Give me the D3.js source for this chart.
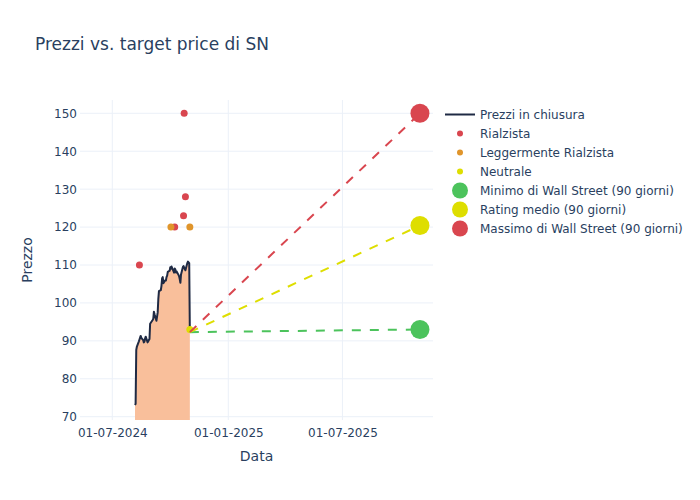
<!DOCTYPE html>
<html>
<head>
<meta charset="utf-8">
<script src="https://cdn.jsdelivr.net/npm/d3@7"></script>
<style>
  body { margin: 0; background: #fff; }
  svg { font-family: "DejaVu Sans", sans-serif; }
</style>
</head>
<body>
<svg id="chart" width="700" height="500"></svg>
<script>
// ---------------- DATA ----------------
const priceDates = [
  "2024-08-06","2024-08-07","2024-08-08","2024-08-09","2024-08-12","2024-08-13","2024-08-14","2024-08-15","2024-08-16",
  "2024-08-19","2024-08-20","2024-08-21","2024-08-22","2024-08-23","2024-08-26","2024-08-27","2024-08-28","2024-08-29","2024-08-30",
  "2024-09-03","2024-09-04","2024-09-05","2024-09-06","2024-09-09","2024-09-10","2024-09-11","2024-09-12","2024-09-13",
  "2024-09-16","2024-09-17","2024-09-18","2024-09-19","2024-09-20","2024-09-23","2024-09-24","2024-09-25","2024-09-26","2024-09-27",
  "2024-09-30","2024-10-01","2024-10-02","2024-10-03","2024-10-04","2024-10-07","2024-10-08","2024-10-09","2024-10-10","2024-10-11",
  "2024-10-14","2024-10-15","2024-10-16","2024-10-17","2024-10-18","2024-10-21","2024-10-22","2024-10-23","2024-10-24","2024-10-25",
  "2024-10-28","2024-10-29","2024-10-30","2024-10-31","2024-11-01"
];
const priceValues = [
  73.1, 73.4, 87.6, 88.5, 89.8, 90.3, 90.8, 91.3, 90.8,
  90.2, 89.6, 89.8, 90.6, 91.1, 89.6, 89.9, 90.2, 90.5, 94.5,
  95.5, 95.8, 97.7, 97.0, 95.3, 96.4, 97.5, 101.0, 103.1,
  103.4, 104.5, 106.5, 106.8, 105.2, 106.0, 105.9, 106.8, 107.2, 108.2,
  108.5, 109.4, 109.0, 109.6, 109.2, 108.0, 109.1, 108.8, 108.0, 108.3,
  107.4, 107.0, 106.2, 105.3, 107.5, 109.5, 109.7, 109.3, 108.9, 108.6,
  110.5, 110.9, 110.7, 110.5, 92.3
];

const rialzistaDates  = ["2024-08-13","2024-10-08","2024-10-22","2024-10-23","2024-10-25"];
const rialzistaValues = [110, 120, 123, 150, 128];
const leggRialzistaDates  = ["2024-10-02","2024-11-01"];
const leggRialzistaValues = [120, 120];
const neutraleDates  = ["2024-11-01"];
const neutraleValues = [93];

const targetStartDate = "2024-11-01";
const targetDate = "2025-11-01";
const targetNames  = ["Minimo di Wall Street (90 giorni)", "Rating medio (90 giorni)", "Massimo di Wall Street (90 giorni)"];
const targetValues = [93, 120.4, 150];

const xTickDates = ["2024-07-01","2025-01-01","2025-07-01"];
const yTickValues = [70, 80, 90, 100, 110, 120, 130, 140, 150];

const legendNames = ["Prezzi in chiusura","Rialzista","Leggermente Rialzista","Neutrale"].concat(targetNames);

// ---------------- STYLE ----------------
const C = {
  text: "#2a3f5f", grid: "#EBF0F8", line: "#1f2a44", fill: "#F9BF9B",
  red: "#D9464F", orange: "#E0952B", yellow: "#DEDE00", green: "#4CC35C"
};
const targetColors = [C.green, C.yellow, C.red];

const W = 700, H = 500;
const M = { left: 80, right: 267, top: 100, bottom: 80 };
const pw = W - M.left - M.right, ph = H - M.top - M.bottom;

const parse = d3.utcParse("%Y-%m-%d");
const DAY = 864e5;
const x0 = parse("2024-07-01").getTime();
const x = d3.scaleUtc()
  .domain([new Date(x0 - 51.24 * DAY), new Date(x0 + 508.7 * DAY)])
  .range([M.left, M.left + pw]);
const y = d3.scaleLinear().domain([69.13, 153.51]).range([M.top + ph, M.top]);

const svg = d3.select("#chart");
svg.append("rect").attr("width", W).attr("height", H).attr("fill", "#fff");

svg.append("defs").append("clipPath").attr("id", "clip")
  .append("rect").attr("x", M.left).attr("y", M.top).attr("width", pw).attr("height", ph);

// grid
const g = svg.append("g");
g.selectAll(".gy").data(yTickValues).join("line")
  .attr("x1", M.left).attr("x2", M.left + pw)
  .attr("y1", d => y(d)).attr("y2", d => y(d))
  .attr("stroke", C.grid).attr("stroke-width", 1);
g.selectAll(".gx").data(xTickDates).join("line")
  .attr("x1", d => x(parse(d))).attr("x2", d => x(parse(d)))
  .attr("y1", M.top).attr("y2", M.top + ph)
  .attr("stroke", C.grid).attr("stroke-width", 1);

// axes
const yAxis = d3.axisLeft(y).tickValues(yTickValues).tickSize(0).tickPadding(3);
const ya = svg.append("g").attr("transform", `translate(${M.left},0)`).call(yAxis);
const xAxis = d3.axisBottom(x).tickValues(xTickDates.map(parse)).tickFormat(d3.utcFormat("%d-%m-%Y")).tickSize(0).tickPadding(8);
const xa = svg.append("g").attr("transform", `translate(0,${M.top + ph})`).call(xAxis);
[ya, xa].forEach(a => {
  a.select(".domain").remove();
  a.selectAll("text").attr("fill", C.text).attr("font-size", 12).attr("font-family", "DejaVu Sans, sans-serif");
});

const plot = svg.append("g").attr("clip-path", "url(#clip)");

const prices = priceDates.map((d, i) => ({ d: parse(d), v: priceValues[i] }));
plot.append("path").datum(prices)
  .attr("d", d3.area().x(p => x(p.d)).y0(y(0)).y1(p => y(p.v)))
  .attr("fill", C.fill);
plot.append("path").datum(prices)
  .attr("d", d3.line().x(p => x(p.d)).y(p => y(p.v)))
  .attr("fill", "none").attr("stroke", C.line).attr("stroke-width", 2).attr("stroke-linejoin", "round");

function dots(dates, vals, color) {
  plot.append("g").selectAll("circle").data(dates.map((d, i) => ({ d: parse(d), v: vals[i] }))).join("circle")
    .attr("cx", p => x(p.d)).attr("cy", p => y(p.v)).attr("r", 3.5).attr("fill", color);
}
dots(rialzistaDates, rialzistaValues, C.red);
dots(leggRialzistaDates, leggRialzistaValues, C.orange);
dots(neutraleDates, neutraleValues, C.yellow);

// dashed target lines
const lastClose = priceValues[priceValues.length - 1];
targetValues.forEach((v, i) => {
  plot.append("line")
    .attr("x1", x(parse(targetStartDate))).attr("y1", y(lastClose))
    .attr("x2", x(parse(targetDate))).attr("y2", y(v))
    .attr("stroke", targetColors[i]).attr("stroke-width", 2).attr("stroke-dasharray", "9,9");
});
targetValues.forEach((v, i) => {
  svg.append("circle").attr("cx", x(parse(targetDate))).attr("cy", y(v)).attr("r", 9.5).attr("fill", targetColors[i]);
});

// titles
svg.append("text").attr("x", 35).attr("y", 50).attr("font-size", 17).attr("fill", C.text)
  .text("Prezzi vs. target price di SN");
svg.append("text").attr("x", M.left + pw / 2).attr("y", 461).attr("text-anchor", "middle")
  .attr("font-size", 14).attr("fill", C.text).text("Data");
svg.append("text").attr("transform", `translate(32,${M.top + ph / 2}) rotate(-90)`).attr("text-anchor", "middle")
  .attr("font-size", 14).attr("fill", C.text).text("Prezzo");

// legend
const legColors = [C.line, C.red, C.orange, C.yellow].concat(targetColors);
const leg = svg.append("g");
legendNames.forEach((name, i) => {
  const cy = 114.5 + i * 19;
  if (i === 0) {
    leg.append("line").attr("x1", 445).attr("x2", 475).attr("y1", cy).attr("y2", cy)
      .attr("stroke", C.line).attr("stroke-width", 2);
  } else {
    leg.append("circle").attr("cx", 460).attr("cy", cy).attr("r", i < 4 ? 3 : 8).attr("fill", legColors[i]);
  }
  leg.append("text").attr("x", 480).attr("y", cy).attr("dy", "0.36em")
    .attr("font-size", 12).attr("fill", C.text).text(name);
});
</script>
</body>
</html>
